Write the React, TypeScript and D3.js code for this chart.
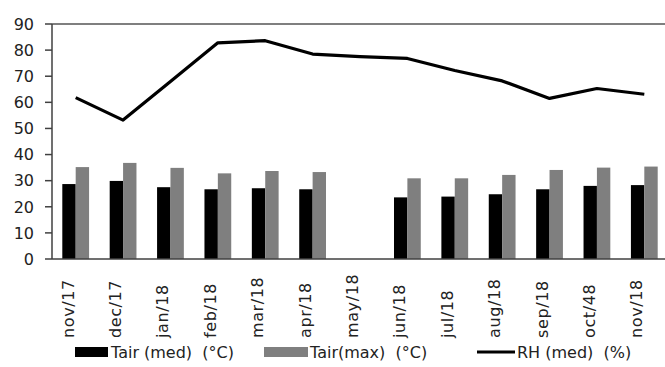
import React from "react";
import * as d3 from "d3";

const categories = ["nov/17","dec/17","jan/18","feb/18","mar/18","apr/18","may/18","jun/18","jul/18","aug/18","sep/18","oct/48","nov/18"];
const tairMed: (number | null)[] = [28.7, 29.9, 27.5, 26.7, 27.1, 26.7, null, 23.6, 23.9, 24.8, 26.7, 28.0, 28.3];
const tairMax: (number | null)[] = [35.2, 36.8, 34.9, 32.8, 33.7, 33.3, null, 30.9, 30.9, 32.2, 34.1, 35.0, 35.4];
const rhMed: number[] = [61.8, 53.2, 68.0, 82.8, 83.6, 78.5, 77.5, 76.8, 72.2, 68.2, 61.5, 65.3, 63.1];
const yTicks = [0, 10, 20, 30, 40, 50, 60, 70, 80, 90];
const legendLabels = ["Tair (med)  (°C)", "Tair(max)  (°C)", "RH (med)  (%)"];

const W = 665, H = 367;
const FONT = "'DejaVu Sans', sans-serif";

export default function App() {
  const x0 = d3.scaleBand<string>().domain(categories).range([52, 668]).paddingInner(0.435).paddingOuter(0.2175);
  const x1 = d3.scaleBand<string>().domain(["med", "max"]).range([0, x0.bandwidth()]);
  const y = d3.scaleLinear().domain([0, 90]).range([259, 24]);
  const cx = (c: string) => (x0(c) as number) + x0.bandwidth() / 2;
  const line = d3.line<number>().x((_, i) => cx(categories[i])).y((d) => y(d));

  return (
    <svg width={W} height={H} style={{ position: "absolute", left: 0, top: 0, background: "#fff" }}>
      <line x1={52} x2={665} y1={y(90)} y2={y(90)} stroke="#555" strokeWidth={1.5} />
      {categories.map((c, i) => (
        <g key={c}>
          {tairMed[i] != null && (
            <rect x={(x0(c) as number) + (x1("med") as number)} y={y(tairMed[i] as number)} width={x1.bandwidth()} height={y(0) - y(tairMed[i] as number)} fill="#000" />
          )}
          {tairMax[i] != null && (
            <rect x={(x0(c) as number) + (x1("max") as number)} y={y(tairMax[i] as number)} width={x1.bandwidth()} height={y(0) - y(tairMax[i] as number)} fill="#7f7f7f" />
          )}
        </g>
      ))}
      <line x1={52} x2={665} y1={y(0)} y2={y(0)} stroke="#404040" strokeWidth={1.5} />
      <line x1={52} x2={52} y1={y(0)} y2={y(90)} stroke="#404040" strokeWidth={1.5} />
      {yTicks.map((t) => (
        <g key={t}>
          <line x1={45} x2={52} y1={y(t)} y2={y(t)} stroke="#404040" strokeWidth={1.5} />
          <text x={34} y={y(t)} dy="0.36em" textAnchor="end" fontFamily={FONT} fontSize={16} fill="#222">{t}</text>
        </g>
      ))}
      <path d={line(rhMed) || ""} fill="none" stroke="#000" strokeWidth={3.2} strokeLinejoin="round" />
      {categories.map((c) => (
        <text key={c} transform={`translate(${cx(c) - 2},338) rotate(-90)`} textAnchor="start" fontFamily={FONT} fontSize={16} letterSpacing={0.6} fill="#222">{c}</text>
      ))}
      <rect x={75} y={347} width={33} height={10} fill="#000" />
      <text x={111} y={352} dy="0.36em" fontFamily={FONT} fontSize={16} fill="#222" style={{ whiteSpace: "pre" }}>{legendLabels[0]}</text>
      <rect x={264} y={347} width={44} height={10} fill="#7f7f7f" />
      <text x={310} y={352} dy="0.36em" fontFamily={FONT} fontSize={16} fill="#222" style={{ whiteSpace: "pre" }}>{legendLabels[1]}</text>
      <line x1={477} x2={515} y1={352} y2={352} stroke="#000" strokeWidth={3} />
      <text x={517} y={352} dy="0.36em" fontFamily={FONT} fontSize={16} fill="#222" style={{ whiteSpace: "pre" }}>{legendLabels[2]}</text>
    </svg>
  );
}
